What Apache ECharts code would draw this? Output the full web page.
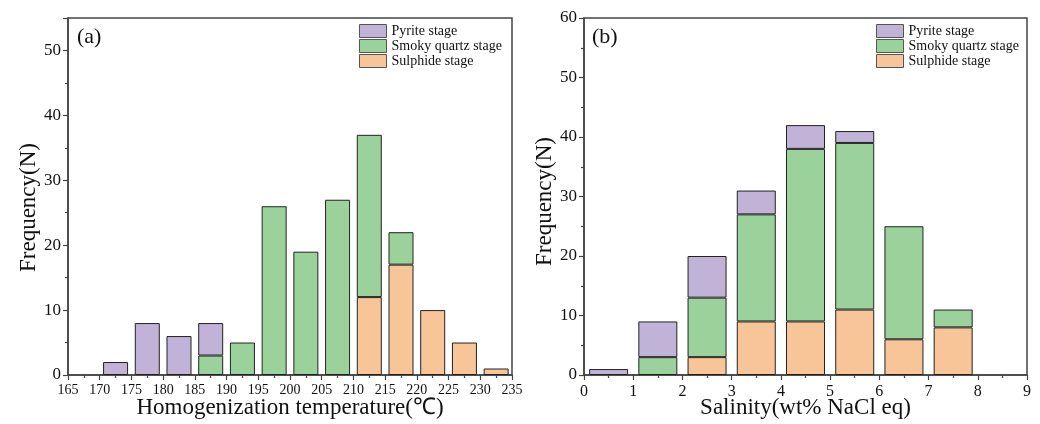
<!DOCTYPE html>
<html>
<head>
<meta charset="utf-8">
<script src="https://cdn.jsdelivr.net/npm/echarts@6/dist/echarts.min.js"></script>
<style>
  html, body { margin: 0; padding: 0; background: #fff; }
  #main { width: 1040px; height: 424px; }
</style>
</head>
<body>
<div id="main"></div>
<script>
// (a) homogenization temperature, bins of 5 degC from 165 to 235
var tempBins = ['165-170', '170-175', '175-180', '180-185', '185-190', '190-195', '195-200',
  '200-205', '205-210', '210-215', '215-220', '220-225', '225-230', '230-235'];
var tempSulphide = [0, 0, 0, 0, 0, 0, 0, 0, 0, 12, 17, 10, 5, 1];
var tempSmoky = [0, 0, 0, 0, 3, 5, 26, 19, 27, 25, 5, 0, 0, 0];
var tempPyrite = [0, 2, 8, 6, 5, 0, 0, 0, 0, 0, 0, 0, 0, 0];

// (b) salinity, bins of 1 wt% from 0 to 9
var salBins = ['0-1', '1-2', '2-3', '3-4', '4-5', '5-6', '6-7', '7-8', '8-9'];
var salSulphide = [0, 0, 3, 9, 9, 11, 6, 8, 0];
var salSmoky = [0, 3, 10, 18, 29, 28, 19, 3, 0];
var salPyrite = [1, 6, 7, 4, 4, 2, 0, 0, 0];

var stageNames = ['Pyrite stage', 'Smoky quartz stage', 'Sulphide stage'];
var stageColors = {
  'Pyrite stage': '#c1b2d8',
  'Smoky quartz stage': '#9bd29b',
  'Sulphide stage': '#f8c598'
};

var FONT = 'Liberation Serif';

function barSeries(name, grid, vals, width) {
  return {
    type: 'bar',
    name: name,
    xAxisIndex: grid * 2,
    yAxisIndex: grid,
    stack: 'stage' + grid,
    barWidth: width,
    animation: false,
    itemStyle: {
      color: stageColors[name],
      borderColor: '#222',
      borderWidth: 1
    },
    // empty bins are left out so no flat outline is drawn
    data: vals.map(function (v) { return v ? v : '-'; })
  };
}

// hidden category axis that places the bars in their bins
function binAxisOf(grid, bins) {
  return {
    gridIndex: grid,
    type: 'category',
    data: bins,
    boundaryGap: true,
    show: false
  };
}

// visible value axis carrying the bin edges as ticks
function scaleAxisOf(grid, min, max, interval, name, labelSize, margin) {
  return {
    gridIndex: grid,
    type: 'value',
    position: 'bottom',
    min: min,
    max: max,
    interval: interval,
    name: name,
    nameLocation: 'middle',
    nameGap: 21,
    nameMoveOverlap: false,
    nameTextStyle: { fontFamily: FONT, fontSize: 23, color: '#111' },
    axisLine: { show: true, onZero: false, lineStyle: { color: '#444', width: 1.5 } },
    axisTick: { show: true, length: 5, lineStyle: { color: '#444', width: 1.2 } },
    minorTick: { show: true, splitNumber: 2, length: 3, lineStyle: { color: '#444', width: 1.2 } },
    axisLabel: { fontFamily: FONT, fontSize: labelSize, color: '#111', margin: margin },
    splitLine: { show: false }
  };
}

function yAxisOf(grid, max, showMax, shift) {
  return {
    gridIndex: grid,
    type: 'value',
    min: 0,
    max: max,
    interval: 10,
    name: 'Frequency(N)',
    nameLocation: 'middle',
    nameGap: 28,
    nameTextStyle: { fontFamily: FONT, fontSize: 23, color: '#111', padding: [0, shift, 0, 0] },
    axisLine: { show: true, lineStyle: { color: '#444', width: 1.5 } },
    axisTick: { show: true, length: 5, lineStyle: { color: '#444', width: 1.2 } },
    minorTick: { show: true, splitNumber: 2, length: 3, lineStyle: { color: '#444', width: 1.2 } },
    axisLabel: { fontFamily: FONT, fontSize: 17, color: '#111', margin: 7, showMaxLabel: showMax },
    splitLine: { show: false }
  };
}

function legendOf(left) {
  return {
    data: stageNames,
    orient: 'vertical',
    left: left,
    top: 24,
    padding: 0,
    itemWidth: 27,
    itemHeight: 13,
    itemGap: 1,
    icon: 'rect',
    itemStyle: { borderColor: '#555', borderWidth: 1 },
    textStyle: { fontFamily: FONT, fontSize: 14, color: '#111' }
  };
}

var chart = echarts.init(document.getElementById('main'), null, { renderer: 'canvas' });

var option = {
  backgroundColor: '#fff',
  animation: false,
  grid: [
    { left: 68, right: 528, top: 18, bottom: 49, outerBoundsMode: 'none', show: true, borderColor: '#444', borderWidth: 1.5 },
    { left: 584, right: 13, top: 18, bottom: 49, outerBoundsMode: 'none', show: true, borderColor: '#444', borderWidth: 1.5 }
  ],
  title: [
    { text: '(a)', left: 77, top: 26, padding: 0, textStyle: { fontFamily: FONT, fontSize: 22, fontWeight: 'normal', color: '#111' } },
    { text: '(b)', left: 592, top: 26, padding: 0, textStyle: { fontFamily: FONT, fontSize: 22, fontWeight: 'normal', color: '#111' } }
  ],
  legend: [legendOf(359), legendOf(876)],
  xAxis: [
    binAxisOf(0, tempBins),
    scaleAxisOf(0, 165, 235, 5, 'Homogenization temperature(\u2103)', 14, 8),
    binAxisOf(1, salBins),
    scaleAxisOf(1, 0, 9, 1, 'Salinity(wt% NaCl eq)', 16, 9)
  ],
  yAxis: [yAxisOf(0, 55, false, 22), yAxisOf(1, 60, true, 10)],
  series: [
    barSeries('Sulphide stage', 0, tempSulphide, 25),
    barSeries('Smoky quartz stage', 0, tempSmoky, 25),
    barSeries('Pyrite stage', 0, tempPyrite, 25),
    barSeries('Sulphide stage', 1, salSulphide, 39),
    barSeries('Smoky quartz stage', 1, salSmoky, 39),
    barSeries('Pyrite stage', 1, salPyrite, 39)
  ]
};

chart.setOption(option);
</script>
</body>
</html>
